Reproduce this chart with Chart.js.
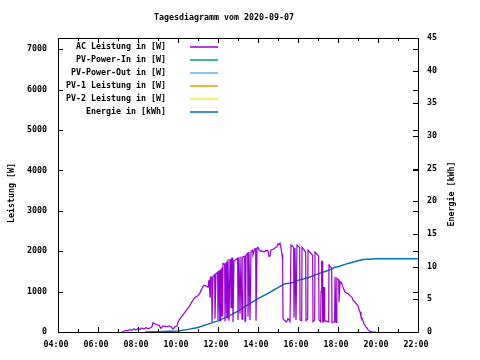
<!DOCTYPE html>
<html>
<head>
<meta charset="utf-8">
<script src="https://cdn.jsdelivr.net/npm/chart.js@4/dist/chart.umd.min.js"></script>
<style>
body{margin:0;background:#fff}
canvas{display:block}
</style>
</head>
<body>
<canvas id="dayChart" width="480" height="360"></canvas>
<script>

const titleText = "Tagesdiagramm vom 2020-09-07"
const leftTitle = "Leistung [W]"
const rightTitle = "Energie [kWh]"

const seriesLabels = ["AC Leistung in [W]","PV-Power-In in [W]","PV-Power-Out in [W]","PV-1 Leistung in [W]","PV-2 Leistung in [W]","Energie in [kWh]"]
const seriesColors = ["#9400d3","#009e73","#56b4e9","#e69f00","#f0e442","#0072b2"]

// tick values
const hourTicks = [4,5,6,7,8,9,10,11,12,13,14,15,16,17,18,19,20,21,22]
const wattTicks = [0,1000,2000,3000,4000,5000,6000,7000]
const kwhTicks = [0,5,10,15,20,25,30,35,40,45]

// AC power (same grouping per line in both arrays)
const acTimes = [
"07:12","07:18","07:24","07:30","07:36","07:42","07:48","07:54","08:00","08:06","08:12","08:18","08:24","08:30","08:36","08:42","08:45","08:51","08:57","09:03","09:09","09:15","09:21","09:27","09:33","09:39","09:45","09:51","09:57",
"10:00","10:06","10:12","10:18","10:24","10:30","10:36","10:42","10:48","10:54","11:00","11:06","11:12","11:18","11:24","11:30",
"11:33","11:35","11:36","11:37","11:41","11:42","11:44","11:45","11:50","11:51","11:53","11:54","11:59","12:00","12:02","12:03","12:05","12:06","12:08","12:09","12:11","12:12","12:14",
"12:15","12:20","12:21","12:23","12:24","12:26","12:27","12:29","12:30","12:32","12:33","12:35","12:36","12:38","12:39","12:41","12:42","12:44","12:45","12:47","12:48","12:59",
"13:00","13:02","13:03","13:05","13:06","13:08","13:09","13:11","13:12","13:14","13:15","13:20","13:21","13:23","13:24","13:29","13:30","13:32","13:33","13:35","13:36","13:38","13:39","13:44","13:45","13:50","13:53","13:54","13:56","13:57","14:00",
"14:03","14:09","14:12","14:18","14:24","14:30","14:33","14:36","14:39","14:45","14:51","14:57","15:00","15:03","15:06","15:09","15:12","15:14",
"15:15","15:18","15:21","15:24","15:27","15:30","15:33","15:36","15:38","15:39","15:47","15:48","15:50","15:51","15:53","15:54","15:56","15:57","16:05","16:06","16:11",
"16:12","16:23","16:24","16:29","16:30","16:44","16:45","16:50","16:51","17:02","17:03","17:08",
"17:09","17:11","17:13","17:14","17:16","17:17","17:19","17:20","17:32","17:33","17:41","17:42","17:50","17:51","17:53","17:54","17:56","17:57","18:02","18:03","18:05",
"18:06","18:09","18:12","18:15","18:18","18:21","18:24","18:27","18:30","18:36","18:42","18:45","18:51","18:57","19:00","19:03","19:06","19:09","19:12","19:15","19:18","19:21","19:24","19:27","19:30","19:33","19:39","19:45","19:54"]
const acWatts = [
0,20,40,30,60,40,80,50,90,60,100,70,110,80,100,130,230,200,180,170,90,150,140,130,150,130,70,130,150,
250,330,390,460,530,590,660,750,830,870,900,970,1080,1160,1140,1110,
1290,1290,870,1360,1360,250,250,1380,1420,330,330,1440,1480,300,300,1520,1530,280,280,1560,1600,400,400,
1700,1680,260,260,1720,1740,350,350,1800,1800,280,280,1790,1800,600,600,1830,1830,250,250,1760,1830,
300,300,1850,1850,450,450,1870,1870,320,320,1860,1880,270,270,1900,1950,380,380,1980,1980,300,300,2000,2030,1900,2060,2060,280,280,2080,2100,
2030,2000,2010,1980,2020,2010,1870,1880,2030,2050,2080,2120,2180,2160,2200,2080,1930,1750,
330,300,280,250,270,330,300,260,260,2160,2100,350,350,2080,2080,300,300,2150,2100,300,280,
2100,1980,280,320,2030,1900,260,300,1980,1880,300,250,
1000,1750,1750,250,250,1100,1100,280,250,1660,1580,230,250,1360,1360,240,240,1330,1300,740,740,
1250,1220,1200,1100,1050,990,980,960,950,900,860,790,740,680,650,560,500,380,340,280,200,170,120,100,60,30,10,0,0]

// cumulated energy
const energyTimes = ["08:21","09:00","09:30","10:00","10:30","11:00","11:30","12:00","12:30","13:00","13:30","14:00","14:30","15:00","15:21","15:40","16:00","16:30","17:00","17:30","17:50","18:00","18:30","19:00","19:15","19:30","20:00","22:00"]
const energyKwh = [0,0.05,0.1,0.15,0.4,0.7,1.2,1.7,2.4,3.2,4.2,5.1,5.9,6.8,7.4,7.5,7.9,8.3,8.9,9.4,9.9,10.0,10.5,10.9,11.1,11.15,11.2,11.2]

const FONT = "'DejaVu Sans Mono', monospace"
const tickFont = {family:FONT, size:8.3, weight:"bold"}

function toHours(t){
const p = t.split(":")
return Number(p[0]) + Number(p[1])/60
}

function points(times, values){
return times.map((t,i) => ({x: toHours(t), y: values[i]}))
}

const gnuplotFrame = {
id: "gnuplotFrame",
afterDraw(chart){
const ctx = chart.ctx
const a = chart.chartArea
const xs = chart.scales.x
const ys = chart.scales.y
const y2 = chart.scales.y2
ctx.save()
ctx.strokeStyle = "#000"
ctx.lineWidth = 1
ctx.beginPath()
ctx.rect(Math.round(a.left)+0.5, Math.round(a.top)+0.5, Math.round(a.right-a.left), Math.round(a.bottom-a.top))
// ticks point inwards, like gnuplot
hourTicks.forEach(h => {
const x = Math.round(xs.getPixelForValue(h)) + 0.5
const len = h % 2 == 0 ? 5 : 3
ctx.moveTo(x, a.bottom); ctx.lineTo(x, a.bottom - len)
ctx.moveTo(x, a.top); ctx.lineTo(x, a.top + len)
})
wattTicks.forEach(v => {
const y = Math.round(ys.getPixelForValue(v)) + 0.5
ctx.moveTo(a.left, y); ctx.lineTo(a.left + 5, y)
ctx.moveTo(a.right, y); ctx.lineTo(a.right - 5, y)
})
kwhTicks.forEach(v => {
const y = Math.round(y2.getPixelForValue(v)) + 0.5
ctx.moveTo(a.right, y); ctx.lineTo(a.right - 5, y)
})
ctx.stroke()

ctx.fillStyle = "#000"
ctx.font = "bold 8.3px " + FONT
ctx.textBaseline = "middle"
ctx.textAlign = "center"
ctx.fillText(titleText, 224, 18)
ctx.save()
ctx.translate(12, 193)
ctx.rotate(-Math.PI/2)
ctx.fillText(leftTitle, 0, 0)
ctx.restore()
ctx.save()
ctx.translate(452, 194)
ctx.rotate(-Math.PI/2)
ctx.fillText(rightTitle, 0, 0)
ctx.restore()

// key, top left inside the plot
ctx.textAlign = "right"
ctx.lineWidth = 1.5
seriesLabels.forEach((label,i) => {
const y = 47 + i*13
ctx.fillStyle = "#000"
ctx.fillText(label, 166, y)
ctx.strokeStyle = seriesColors[i]
ctx.beginPath()
ctx.moveTo(190, y)
ctx.lineTo(218, y)
ctx.stroke()
})
ctx.restore()
}
}

const ctx = document.getElementById("dayChart")

new Chart(ctx,{
type:"line",
data:{
datasets:[
{label:seriesLabels[0], data:points(acTimes, acWatts), borderColor:seriesColors[0], borderWidth:1.2, yAxisID:"y"},
{label:seriesLabels[1], data:[], borderColor:seriesColors[1], yAxisID:"y"},
{label:seriesLabels[2], data:[], borderColor:seriesColors[2], yAxisID:"y"},
{label:seriesLabels[3], data:[], borderColor:seriesColors[3], yAxisID:"y"},
{label:seriesLabels[4], data:[], borderColor:seriesColors[4], yAxisID:"y"},
{label:seriesLabels[5], data:points(energyTimes, energyKwh), borderColor:seriesColors[5], yAxisID:"y2"}
]
},
options:{
responsive:false,
animation:false,
layout:{padding:{top:38, left:0, right:0, bottom:0}},
elements:{
point:{radius:0},
line:{borderWidth:1.5, tension:0}
},
plugins:{
legend:{display:false},
tooltip:{enabled:false},
title:{display:false}
},
scales:{
x:{
type:"linear", min:4, max:22,
grid:{display:false, drawTicks:false},
border:{display:false},
afterFit(s){ s.height = 28 },
afterBuildTicks(s){ s.ticks = hourTicks.filter(h => h % 2 == 0).map(v => ({value:v})) },
ticks:{padding:8, labelOffset:-2, color:"#000", font:tickFont, maxRotation:0, autoSkip:false,
callback:v => String(v).padStart(2,"0") + ":00"}
},
y:{
position:"left", min:0, max:7280,
grid:{display:false, drawTicks:false},
border:{display:false},
afterFit(s){ s.width = 58 },
afterBuildTicks(s){ s.ticks = wattTicks.map(v => ({value:v})) },
ticks:{padding:11, color:"#000", font:tickFont, callback:v => String(v)}
},
y2:{
position:"right", min:0, max:45,
grid:{display:false, drawTicks:false},
border:{display:false},
afterFit(s){ s.width = 62 },
afterBuildTicks(s){ s.ticks = kwhTicks.map(v => ({value:v})) },
ticks:{padding:9, color:"#000", font:tickFont, callback:v => String(v)}
}
}
},
plugins:[gnuplotFrame]
})

</script>
</body>
</html>
